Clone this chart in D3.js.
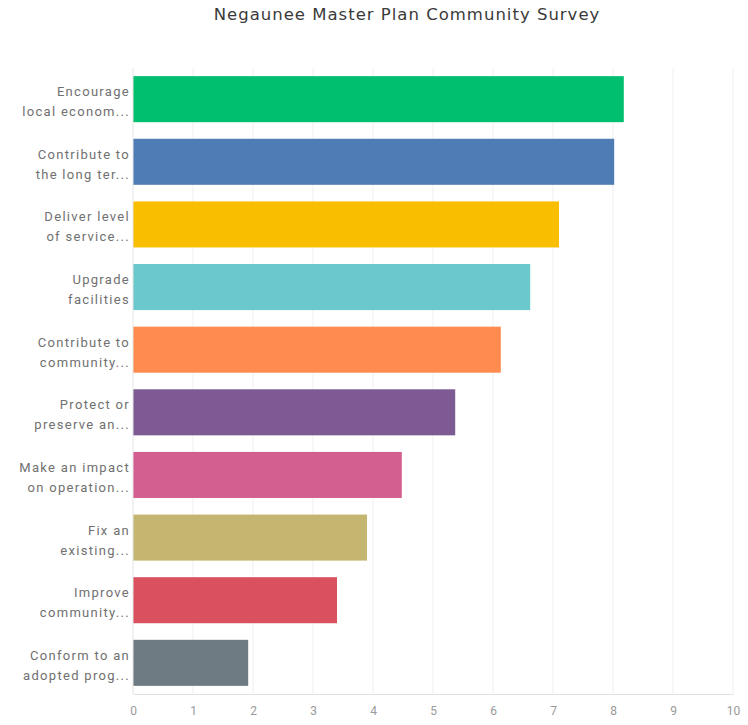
<!DOCTYPE html>
<html>
<head>
<meta charset="utf-8">
<script src="https://cdn.jsdelivr.net/npm/d3@7"></script>
<style>
  html, body { margin: 0; padding: 0; background: #fff; }
  svg { display: block; }
</style>
</head>
<body>
<svg id="chart" width="748" height="725"></svg>
<script>
// Survey answers (top to bottom) with their average scores
const categories = [
  ["Encourage", "local econom..."],
  ["Contribute to", "the long ter..."],
  ["Deliver level", "of service..."],
  ["Upgrade", "facilities"],
  ["Contribute to", "community..."],
  ["Protect or", "preserve an..."],
  ["Make an impact", "on operation..."],
  ["Fix an", "existing..."],
  ["Improve", "community..."],
  ["Conform to an", "adopted prog..."]
];
const values = [8.18, 8.02, 7.1, 6.62, 6.13, 5.37, 4.48, 3.9, 3.4, 1.92];
const colors = ["#00BF6F", "#507CB6", "#F9BE00", "#6BC8CD", "#FF8B4F",
                "#7D5A92", "#D25F90", "#C4B670", "#D9505F", "#6F7B83"];
const xTicks = [0, 1, 2, 3, 4, 5, 6, 7, 8, 9, 10];
const title = "Negaunee Master Plan Community Survey";

const svg = d3.select("#chart");
const plotLeft = 133, plotRight = 733, plotTop = 68, plotBottom = 694;

const x = d3.scaleLinear().domain([0, 10]).range([plotLeft, plotRight]);
const y = d3.scaleBand()
  .domain(d3.range(categories.length))
  .range([plotTop, plotBottom])
  .paddingInner(0.265)
  .paddingOuter(0.13);

// Title
svg.append("text")
  .attr("x", 407).attr("y", 20)
  .attr("text-anchor", "middle")
  .attr("font-family", "DejaVu Sans, sans-serif")
  .attr("font-size", 16.5)
  .attr("letter-spacing", 1)
  .attr("fill", "#3a3a3a")
  .text(title);

// Vertical gridlines
svg.append("g")
  .selectAll("line")
  .data(xTicks.slice(1))
  .join("line")
  .attr("x1", d => x(d)).attr("x2", d => x(d))
  .attr("y1", plotTop).attr("y2", plotBottom)
  .attr("stroke", "#efefef")
  .attr("stroke-width", 1);

// Bars
svg.append("g")
  .selectAll("rect")
  .data(values)
  .join("rect")
  .attr("x", x(0))
  .attr("y", (d, i) => y(i))
  .attr("width", d => x(d) - x(0))
  .attr("height", y.bandwidth())
  .attr("fill", (d, i) => colors[i]);

// Left axis line
svg.append("line")
  .attr("x1", plotLeft).attr("x2", plotLeft)
  .attr("y1", plotTop).attr("y2", plotBottom)
  .attr("stroke", "#e4e4e4");

// Bottom axis
const xAxis = d3.axisBottom(x)
  .tickValues(xTicks)
  .tickSize(0)
  .tickPadding(12)
  .tickFormat(d3.format("d"));
const gx = svg.append("g")
  .attr("transform", `translate(0,${plotBottom})`)
  .call(xAxis);
gx.select(".domain").attr("stroke", "#e0e0e0");
gx.selectAll("text")
  .attr("font-family", "Roboto, sans-serif")
  .attr("font-size", 12)
  .attr("fill", "#999");

// Category labels, two lines each
const labels = svg.append("g")
  .selectAll("text")
  .data(categories)
  .join("text")
  .attr("y", (d, i) => y(i) + y.bandwidth() / 2)
  .attr("text-anchor", "end")
  .attr("font-family", "Roboto, sans-serif")
  .attr("font-size", 13)
  .attr("letter-spacing", 1.3)
  .attr("fill", "#707070");
labels.selectAll("tspan")
  .data(d => d)
  .join("tspan")
  .attr("x", 130)
  .attr("dy", (d, j) => j === 0 ? "-3" : "20")
  .text(d => d);
</script>
</body>
</html>
